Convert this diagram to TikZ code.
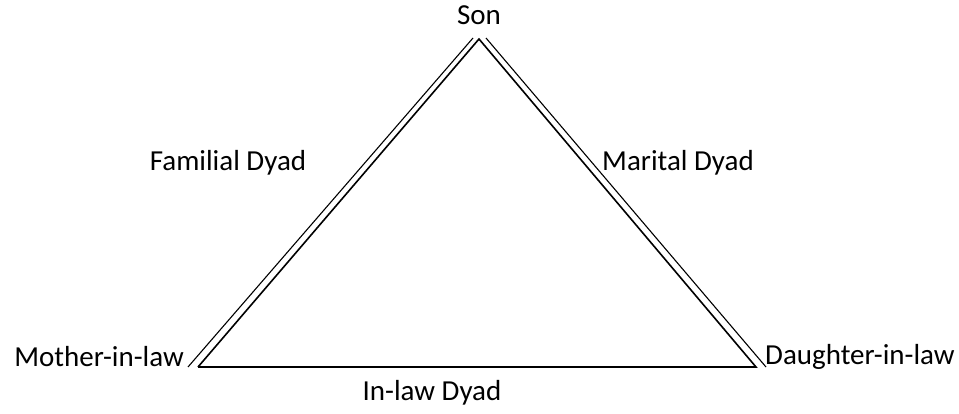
\documentclass[tikz,border=0pt]{standalone}
\usepackage{fontspec}
\setmainfont{Carlito}
\usetikzlibrary{positioning}
\tikzset{
  lbl/.style={inner sep=0pt, font=\fontsize{29}{34}\selectfont},
  side/.style={line width=1.6pt},
  twin/.style={line width=1.1pt}
}

\begin{document}
\begin{tikzpicture}[x=1pt, y=-1pt]
    \useasboundingbox (0,0) rectangle (959,414);

    % Corners of the triangle
    \coordinate (top) at (479,39);
    \coordinate (left) at (198,367);
    \coordinate (right) at (756,367);

    % Ends of the second lines
    \coordinate (ltop) at (473,38);
    \coordinate (lbot) at (188,367);
    \coordinate (rtop) at (486,38);
    \coordinate (rbot) at (766,367);

    % Role labels
    \node[lbl] (son) at (479,15) {Son};
    \node[lbl, anchor=east] (mil) at (184,357) {Mother-in-law};
    \node[lbl, anchor=west] (dil) at (765,357) {Daughter-in-law};

    % Dyad labels
    \node[lbl] (familial) at (228,163) {Familial Dyad};
    \node[lbl] (marital) at (678,163) {Marital Dyad};
    \node[lbl] (inlaw) at (432,393) {In-law Dyad};

    % Triangle
    \draw[side] (left) -- (top) -- (right) -- (left);
    \draw[twin] (lbot) -- (ltop);
    \draw[twin] (rtop) -- (rbot);

\end{tikzpicture}
\end{document}
